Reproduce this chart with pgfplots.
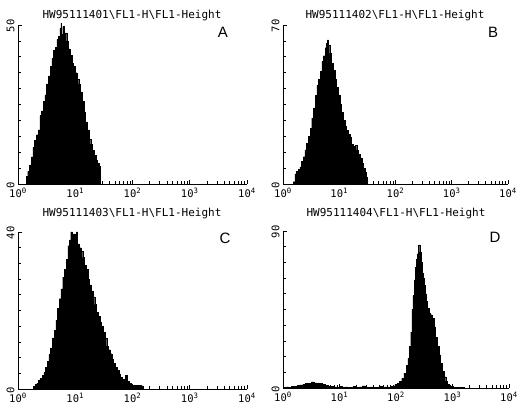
\documentclass[border=0pt]{standalone}
\usepackage{fontspec}
\setmainfont{Liberation Sans}
\newfontfamily\monof{DejaVu Sans Mono}
\usepackage{pgfplots}
\pgfplotsset{compat=1.18}
\pgfplotsset{facs/.style={
  scale only axis, anchor=south west,
  /pgf/number format/assume math mode=true,
  xmin=0, xmax=4, ymin=0,
  axis x line*=bottom, axis y line*=left,
  axis line style={-, line width=0.9pt},
  tick align=inside, major tick length=4pt, minor tick length=2.5pt,
  every tick/.style={black, line width=0.7pt},
  xtick={0,1,2,3,4},
  xticklabels={10\textsuperscript{0},10\textsuperscript{1},10\textsuperscript{2},10\textsuperscript{3},10\textsuperscript{4}},
  minor xtick={0.301,0.477,0.602,0.699,0.778,0.845,0.903,0.954,
    1.301,1.477,1.602,1.699,1.778,1.845,1.903,1.954,
    2.301,2.477,2.602,2.699,2.778,2.845,2.903,2.954,
    3.301,3.477,3.602,3.699,3.778,3.845,3.903,3.954},
  ticklabel style={font=\monof\fontsize{10.5}{11}\selectfont},
  xticklabel style={anchor=north, yshift=-1pt},
  yticklabel style={rotate=90, anchor=south, xshift=-1pt},
  clip=false,
}}
\begin{document}
\begin{tikzpicture}
\useasboundingbox (0,0) rectangle (520pt,406pt);
% Panel A
\begin{axis}[facs, at={(18pt,222pt)}, width=229pt, height=159pt,
  ymax=50, ytick={0,50}, yticklabels={0,50}, minor ytick={5,10,...,45}]
\addplot[const plot, fill=black, draw=black, line width=0.3pt] coordinates {
(0.14,2.5)(0.17,4.0)(0.20,6.0)(0.23,8.5)(0.26,11.5)(0.29,13.8)(0.32,15.5)(0.35,17.0)
(0.38,21.5)(0.41,23.0)(0.44,26.0)(0.47,28.0)(0.50,31.5)(0.53,34.0)(0.56,37.0)(0.59,39.5)
(0.62,42.0)(0.65,43.0)(0.68,45.5)(0.71,46.5)(0.73,49.0)(0.75,50.5)(0.76,47.0)(0.78,49.5)
(0.80,46.0)(0.82,47.5)(0.85,45.0)(0.88,42.5)(0.91,40.5)(0.94,38.0)(0.97,37.0)(1.00,35.0)
(1.03,33.0)(1.06,31.5)(1.09,29.0)(1.12,26.0)(1.15,22.5)(1.18,19.5)(1.21,17.0)(1.24,14.0)
(1.27,12.5)(1.30,10.5)(1.33,9.0)(1.36,7.5)(1.39,6.5)(1.42,5.5)(1.44,0)
} \closedcycle;
\end{axis}
% Panel B
\begin{axis}[facs, at={(283pt,222pt)}, width=225pt, height=159pt,
  ymax=70, ytick={0,70}, yticklabels={0,70}, minor ytick={7,14,...,63}]
\addplot[const plot, fill=black, draw=black, line width=0.3pt] coordinates {
(0.18,1.0)(0.21,4.5)(0.24,5.5)(0.27,6.5)(0.30,7.5)(0.33,10.0)(0.36,12.0)(0.39,15.0)
(0.42,18.0)(0.45,21.0)(0.48,24.5)(0.51,29.0)(0.54,33.5)(0.57,39.0)(0.60,43.5)(0.63,46.0)
(0.66,49.5)(0.69,54.0)(0.72,56.5)(0.75,60.0)(0.77,62.0)(0.79,63.5)(0.81,61.0)(0.83,57.5)
(0.86,53.0)(0.89,50.0)(0.92,46.0)(0.95,42.5)(0.98,39.0)(1.01,35.0)(1.04,31.5)(1.07,28.0)
(1.10,25.5)(1.13,23.5)(1.16,22.0)(1.19,20.5)(1.22,17.5)(1.25,16.5)(1.28,17.0)(1.31,15.0)
(1.34,13.0)(1.37,11.5)(1.40,9.0)(1.43,7.0)(1.46,5.0)(1.48,3.0)(1.50,0)
} \closedcycle;
\end{axis}
% Panel C
\begin{axis}[facs, at={(18pt,17pt)}, width=229pt, height=157pt,
  ymax=40, ytick={0,40}, yticklabels={0,40}, minor ytick={4,8,...,36}]
\addplot[const plot, fill=black, draw=black, line width=0.3pt] coordinates {
(0.27,0.6)(0.30,1.2)(0.33,1.5)(0.36,2.3)(0.39,2.8)(0.42,3.5)(0.45,4.2)(0.48,5.5)
(0.51,7.0)(0.54,8.8)(0.57,10.5)(0.60,13.0)(0.63,15.0)(0.66,17.5)(0.69,20.5)(0.72,23.0)
(0.75,25.5)(0.78,28.5)(0.81,30.5)(0.84,33.0)(0.87,36.5)(0.90,38.0)(0.92,40.0)(0.95,38.5)
(0.97,39.5)(1.00,37.5)(1.02,40.0)(1.04,37.0)(1.07,36.0)(1.10,35.0)(1.13,33.5)(1.16,31.5)
(1.19,30.5)(1.22,28.0)(1.25,26.5)(1.28,25.0)(1.31,23.5)(1.34,21.5)(1.37,19.5)(1.40,18.5)
(1.43,17.0)(1.46,16.0)(1.49,14.5)(1.52,13.0)(1.55,11.0)(1.58,10.0)(1.61,9.0)(1.64,7.5)
(1.67,6.5)(1.70,5.5)(1.73,4.8)(1.76,3.8)(1.79,3.0)(1.82,2.5)(1.85,2.2)(1.88,3.5)
(1.91,2.0)(1.94,1.5)(1.97,1.2)(2.00,1.0)(2.05,1.0)(2.10,1.0)(2.15,0.8)(2.19,0)
} \closedcycle;
\end{axis}
% Panel D
\begin{axis}[facs, at={(283pt,18pt)}, width=226pt, height=157pt,
  ymax=90, ytick={0,90}, yticklabels={0,90}, minor ytick={9,18,...,81}]
\addplot[const plot, fill=black, draw=black, line width=0.3pt] coordinates {
(0.00,0.4)(0.05,0.6)(0.10,0.5)(0.15,0.8)(0.20,1.0)(0.25,1.6)(0.30,1.8)(0.35,2.2)
(0.40,2.6)(0.45,2.8)(0.50,3.5)(0.55,3.0)(0.60,2.8)(0.65,2.5)(0.70,2.0)(0.75,1.5)
(0.80,1.0)(0.85,0.8)(0.90,0.6)(0.95,0.5)(1.00,0.8)(1.05,0.5)(1.10,0.6)(1.15,0.4)
(1.20,0.5)(1.25,0.8)(1.30,0.4)(1.35,0.6)(1.40,1.2)(1.45,0.4)(1.50,0.5)(1.55,0.6)
(1.60,0.4)(1.65,0.5)(1.70,0.8)(1.75,0.5)(1.80,0.7)(1.85,0.4)(1.90,0.8)(1.95,1.2)
(1.98,2.0)(2.02,2.5)(2.06,3.8)(2.10,5.5)(2.14,8.5)(2.18,13.0)(2.21,17.0)(2.24,24.0)
(2.26,32.0)(2.28,45.0)(2.30,53.0)(2.32,62.0)(2.34,69.0)(2.36,74.0)(2.38,77.0)(2.40,82.0)
(2.42,78.0)(2.44,72.0)(2.46,66.0)(2.48,63.0)(2.50,59.0)(2.52,54.0)(2.54,49.5)(2.56,46.0)
(2.58,43.0)(2.61,42.0)(2.64,40.0)(2.67,35.0)(2.70,29.0)(2.73,24.0)(2.76,19.0)(2.79,14.0)
(2.82,9.5)(2.85,6.5)(2.88,4.0)(2.91,2.0)(2.94,1.2)(2.98,0.8)(3.02,0.4)(3.10,0.3)(3.20,0)
} \closedcycle;
\end{axis}
% titles and panel letters
\begin{scope}[every node/.style={font=\monof\fontsize{11}{12}\selectfont, inner sep=0pt}]
\node at (132pt,390pt) {HW95111401\textbackslash FL1-H\textbackslash FL1-Height};
\node at (395pt,390pt) {HW95111402\textbackslash FL1-H\textbackslash FL1-Height};
\node at (132pt,192pt) {HW95111403\textbackslash FL1-H\textbackslash FL1-Height};
\node at (396pt,192pt) {HW95111404\textbackslash FL1-H\textbackslash FL1-Height};
\end{scope}
\begin{scope}[every node/.style={font=\fontsize{15}{16}\selectfont, inner sep=0pt}]
\node at (223pt,374pt) {A};
\node at (493pt,374pt) {B};
\node at (225pt,168pt) {C};
\node at (495pt,169pt) {D};
\end{scope}
\end{tikzpicture}
\end{document}
